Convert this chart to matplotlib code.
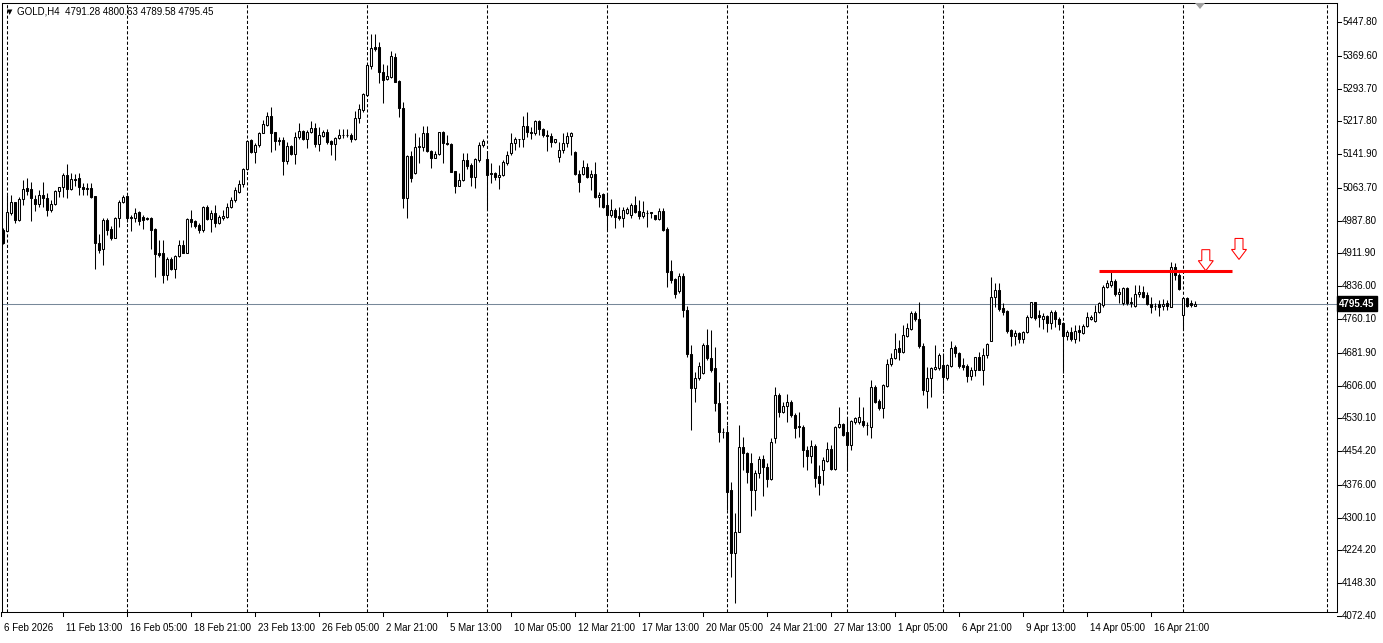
import matplotlib
matplotlib.use("Agg")
import matplotlib.pyplot as plt
import matplotlib.transforms as mtransforms
from matplotlib.patches import Polygon
import numpy as np

plt.rcParams['font.family'] = ['Liberation Sans', 'DejaVu Sans']

# GOLD H4 candles, oldest first
opens = [4966, 4965, 5005, 5030, 4989, 5037, 5063, 5060, 5037, 5026,
         5047, 5040, 5012, 5026, 5056, 5065, 5094, 5060, 5084, 5086,
         5065, 5060, 5063, 5045, 4937, 4922, 4989, 4968, 4947, 4995,
         5030, 5045, 4995, 4995, 5007, 4997, 4994, 4995, 4968, 4912,
         4914, 4863, 4899, 4876, 4906, 4931, 4914, 4992, 4987, 4978,
         4966, 5020, 4992, 5005, 4982, 4995, 4997, 5020, 5036, 5055,
         5072, 5107, 5175, 5146, 5163, 5191, 5209, 5229, 5192, 5175,
         5174, 5127, 5161, 5142, 5182, 5195, 5176, 5192, 5202, 5165,
         5184, 5194, 5172, 5165, 5180, 5185, 5185, 5186, 5177, 5225,
         5244, 5279, 5347, 5391, 5391, 5333, 5315, 5321, 5366, 5311,
         5248, 5040, 5138, 5097, 5158, 5159, 5190, 5148, 5134, 5142,
         5194, 5168, 5165, 5103, 5069, 5082, 5128, 5117, 5090, 5128,
         5163, 5131, 5099, 5099, 5088, 5093, 5122, 5145, 5167, 5177,
         5176, 5207, 5192, 5190, 5219, 5199, 5186, 5184, 5171, 5136,
         5151, 5167, 5184, 5146, 5095, 5095, 5113, 5088, 5096, 5042,
         5050, 5024, 5001, 5012, 4999, 4995, 5006, 5001, 5024, 5010,
         4999, 5006, 5008, 5001, 4991, 5011, 4968, 4871, 4852, 4826,
         4860, 4781, 4678, 4601, 4623, 4634, 4700, 4669, 4646, 4565,
         4499, 4498, 4363, 4219, 4268, 4464, 4450, 4427, 4364, 4404,
         4437, 4418, 4389, 4484, 4584, 4545, 4558, 4567, 4538, 4513,
         4509, 4457, 4444, 4466, 4396, 4410, 4432, 4460, 4413, 4509,
         4516, 4499, 4468, 4522, 4522, 4524, 4515, 4511, 4603, 4570,
         4555, 4606, 4655, 4669, 4692, 4684, 4721, 4736, 4775, 4759,
         4698, 4594, 4623, 4644, 4646, 4654, 4623, 4652, 4696, 4681,
         4654, 4651, 4627, 4643, 4671, 4643, 4677, 4710, 4810, 4827,
         4785, 4779, 4735, 4721, 4728, 4713, 4731, 4764, 4799, 4769,
         4761, 4767, 4751, 4777, 4761, 4751, 4721, 4731, 4713, 4735,
         4728, 4744, 4759, 4756, 4777, 4792, 4835, 4839, 4849, 4819,
         4796, 4831, 4796, 4790, 4819, 4823, 4815, 4795, 4790, 4794,
         4790, 4796, 4789, 4880, 4862, 4769, 4808, 4796, 4791.28]
highs = [4970, 5047, 5047, 5032, 5043, 5082, 5086, 5077, 5047, 5059,
         5077, 5051, 5036, 5059, 5065, 5097, 5119, 5097, 5096, 5097,
         5076, 5076, 5074, 5045, 4958, 4993, 4993, 4975, 4997, 5036,
         5047, 5045, 5001, 5016, 5010, 5001, 4997, 4997, 4970, 4943,
         4944, 4904, 4904, 4908, 4943, 4943, 4993, 5012, 4989, 4982,
         5022, 5024, 5012, 5024, 5001, 5012, 5028, 5043, 5065, 5082,
         5109, 5175, 5178, 5167, 5194, 5221, 5240, 5252, 5194, 5182,
         5182, 5171, 5163, 5194, 5213, 5198, 5198, 5219, 5213, 5205,
         5198, 5199, 5175, 5182, 5201, 5201, 5201, 5190, 5242, 5257,
         5283, 5350, 5419, 5419, 5401, 5350, 5348, 5381, 5375, 5314,
         5263, 5140, 5148, 5190, 5182, 5206, 5206, 5151, 5148, 5194,
         5195, 5186, 5167, 5103, 5097, 5144, 5144, 5121, 5132, 5171,
         5178, 5148, 5121, 5101, 5117, 5128, 5148, 5190, 5182, 5178,
         5230, 5240, 5205, 5222, 5222, 5202, 5198, 5190, 5178, 5171,
         5190, 5192, 5194, 5148, 5105, 5128, 5121, 5105, 5124, 5055,
         5051, 5051, 5039, 5016, 5020, 5019, 5020, 5028, 5045, 5036,
         5034, 5012, 5009, 5002, 5016, 5016, 4974, 4897, 4854, 4866,
         4866, 4790, 4700, 4638, 4661, 4704, 4736, 4735, 4696, 4615,
         4507, 4515, 4383, 4310, 4515, 4488, 4453, 4449, 4410, 4443,
         4445, 4427, 4484, 4603, 4588, 4569, 4586, 4572, 4543, 4545,
         4515, 4465, 4480, 4471, 4422, 4441, 4476, 4468, 4512, 4557,
         4520, 4530, 4526, 4534, 4580, 4557, 4522, 4620, 4607, 4576,
         4609, 4667, 4681, 4727, 4711, 4746, 4750, 4779, 4779, 4800,
         4704, 4650, 4650, 4700, 4682, 4681, 4657, 4708, 4700, 4684,
         4669, 4657, 4650, 4673, 4684, 4692, 4705, 4858, 4843, 4843,
         4796, 4782, 4738, 4735, 4731, 4733, 4769, 4800, 4800, 4781,
         4773, 4769, 4781, 4781, 4765, 4754, 4735, 4742, 4746, 4746,
         4748, 4777, 4769, 4792, 4800, 4839, 4850, 4870, 4852, 4833,
         4835, 4835, 4812, 4839, 4839, 4836, 4823, 4812, 4796, 4804,
         4806, 4804, 4891, 4889, 4867, 4808, 4810, 4804, 4800.63]
lows = [4934, 4963, 5001, 4982, 4988, 5024, 5047, 4988, 5010, 5020,
        5020, 4999, 5009, 5024, 5043, 5043, 5041, 5058, 5068, 5047,
        5047, 5047, 5041, 4877, 4912, 4885, 4954, 4943, 4947, 4974,
        5028, 4985, 4964, 4985, 4978, 4968, 4989, 4922, 4858, 4904,
        4843, 4850, 4873, 4854, 4904, 4912, 4912, 4974, 4970, 4960,
        4962, 4989, 4962, 4974, 4980, 4989, 4993, 5016, 5030, 5051,
        5066, 5105, 5144, 5122, 5159, 5190, 5207, 5146, 5151, 5163,
        5093, 5120, 5140, 5120, 5178, 5174, 5155, 5190, 5159, 5148,
        5182, 5165, 5140, 5128, 5178, 5180, 5182, 5169, 5175, 5215,
        5239, 5277, 5340, 5381, 5306, 5261, 5313, 5317, 5308, 5227,
        5016, 4995, 5077, 5096, 5121, 5148, 5146, 5109, 5132, 5140,
        5121, 5163, 5100, 5051, 5067, 5080, 5107, 5068, 5063, 5124,
        5159, 5012, 5074, 5082, 5060, 5091, 5117, 5140, 5151, 5159,
        5159, 5182, 5178, 5186, 5186, 5182, 5148, 5159, 5168, 5124,
        5144, 5159, 5140, 5094, 5055, 5093, 5086, 5059, 5040, 5019,
        5016, 4966, 4997, 4970, 4989, 4974, 5003, 4993, 5005, 4991,
        4995, 4974, 4993, 4989, 4989, 4964, 4835, 4843, 4808, 4820,
        4765, 4672, 4503, 4569, 4619, 4633, 4665, 4638, 4548, 4476,
        4484, 4318, 4163, 4102, 4268, 4410, 4380, 4304, 4318, 4391,
        4350, 4372, 4387, 4472, 4534, 4542, 4522, 4534, 4484, 4488,
        4417, 4410, 4426, 4372, 4352, 4376, 4430, 4410, 4410, 4507,
        4489, 4410, 4457, 4518, 4518, 4511, 4491, 4484, 4565, 4549,
        4530, 4603, 4651, 4667, 4665, 4682, 4719, 4735, 4756, 4694,
        4584, 4553, 4580, 4642, 4643, 4596, 4620, 4650, 4673, 4646,
        4643, 4615, 4619, 4627, 4642, 4607, 4669, 4708, 4789, 4779,
        4769, 4728, 4698, 4700, 4704, 4704, 4727, 4762, 4758, 4742,
        4738, 4731, 4738, 4742, 4735, 4634, 4711, 4708, 4704, 4708,
        4725, 4742, 4758, 4754, 4775, 4789, 4831, 4835, 4813, 4796,
        4792, 4792, 4788, 4789, 4812, 4808, 4792, 4773, 4781, 4767,
        4781, 4781, 4787, 4850, 4827, 4735, 4789, 4789, 4789.58]
closes = [4937, 5008, 5030, 4989, 5037, 5062, 5057, 5040, 5026, 5047,
          5040, 5012, 5026, 5056, 5065, 5094, 5060, 5084, 5083, 5065,
          5060, 5063, 5043, 4935, 4920, 4989, 4966, 4947, 4995, 5032,
          5042, 4995, 4996, 5005, 4988, 4989, 4992, 4966, 4910, 4908,
          4863, 4900, 4876, 4907, 4931, 4914, 4992, 4985, 4975, 4966,
          5020, 4992, 5005, 4982, 4997, 4999, 5020, 5036, 5059, 5072,
          5107, 5173, 5146, 5163, 5191, 5211, 5229, 5190, 5173, 5172,
          5127, 5161, 5142, 5182, 5195, 5176, 5192, 5202, 5165, 5186,
          5192, 5171, 5165, 5180, 5186, 5185, 5186, 5178, 5225, 5246,
          5281, 5348, 5388, 5385, 5333, 5314, 5323, 5368, 5310, 5248,
          5040, 5138, 5087, 5158, 5161, 5190, 5148, 5134, 5142, 5192,
          5167, 5165, 5101, 5069, 5082, 5128, 5115, 5090, 5131, 5163,
          5172, 5094, 5096, 5088, 5093, 5124, 5140, 5167, 5178, 5177,
          5207, 5192, 5190, 5219, 5199, 5186, 5184, 5171, 5176, 5151,
          5168, 5184, 5190, 5095, 5078, 5113, 5088, 5096, 5042, 5047,
          5019, 5001, 5012, 4997, 4995, 5012, 5014, 5024, 5009, 4999,
          5009, 5006, 5005, 4991, 5011, 4966, 4870, 4850, 4818, 4860,
          4781, 4680, 4601, 4623, 4651, 4700, 4669, 4643, 4565, 4499,
          4499, 4360, 4219, 4268, 4464, 4449, 4406, 4364, 4404, 4437,
          4417, 4389, 4475, 4584, 4545, 4559, 4567, 4538, 4507, 4509,
          4457, 4444, 4466, 4393, 4381, 4433, 4460, 4413, 4511, 4516,
          4491, 4468, 4524, 4532, 4534, 4515, 4514, 4603, 4569, 4555,
          4607, 4656, 4669, 4690, 4684, 4723, 4740, 4775, 4759, 4698,
          4596, 4623, 4646, 4648, 4677, 4625, 4654, 4694, 4681, 4652,
          4648, 4627, 4643, 4671, 4643, 4677, 4702, 4810, 4827, 4783,
          4777, 4733, 4721, 4727, 4713, 4731, 4764, 4799, 4762, 4764,
          4767, 4751, 4777, 4759, 4748, 4721, 4731, 4713, 4733, 4731,
          4744, 4764, 4765, 4777, 4796, 4835, 4844, 4849, 4819, 4823,
          4831, 4796, 4799, 4819, 4823, 4812, 4795, 4789, 4790, 4789,
          4795, 4790, 4880, 4862, 4829, 4808, 4790, 4792, 4795.45]

price_levels = [5447.80, 5369.60, 5293.70, 5217.80, 5141.90, 5063.70, 4987.80,
                4911.90, 4836.00, 4760.10, 4681.90, 4606.00, 4530.10, 4454.20,
                4376.00, 4300.10, 4224.20, 4148.30, 4072.40]
time_labels = ["6 Feb 2026", "11 Feb 13:00", "16 Feb 05:00", "18 Feb 21:00",
               "23 Feb 13:00", "26 Feb 05:00", "2 Mar 21:00", "5 Mar 13:00",
               "10 Mar 05:00", "12 Mar 21:00", "17 Mar 13:00", "20 Mar 05:00",
               "24 Mar 21:00", "27 Mar 13:00", "1 Apr 05:00", "6 Apr 21:00",
               "9 Apr 13:00", "14 Apr 05:00", "16 Apr 21:00"]
label_bars = [-0.5, 15, 31, 47, 63, 79, 95, 111, 127, 143, 159, 175, 191, 207,
              223, 239, 255, 271, 287]
week_bars = [1, 31, 61, 91, 121, 151, 181, 211, 235, 265, 295, 331]

bid = 4795.45
resistance = 4872
resistance_bars = (274, 307.25)
arrow_bars = [300.7, 309]
arrow_prices = [4872, 4898]

W, H = 1383, 643
fig = plt.figure(figsize=(W / 100, H / 100), dpi=100)
fig.patch.set_facecolor('white')
ax = fig.add_axes([2 / W, 1 - 612 / H, 1335 / W, 609 / H])
ax.set_xlim(-0.25, 333.5)
ax.set_ylim(4081.66, 5491.79)
ax.set_xticks([])
ax.set_yticks([])
for s in ax.spines.values():
    s.set_linewidth(0.75)
    s.set_color('black')

o = np.array(opens, dtype=float)
h = np.array(highs, dtype=float)
l = np.array(lows, dtype=float)
c = np.array(closes, dtype=float)
x = np.arange(len(c))
up = c >= o

# week separators and bid line
for b in week_bars:
    ax.axvline(b, color='black', lw=0.75, ls=(0, (3, 2)), zorder=1)
ax.axhline(bid, color='#778899', lw=0.75, zorder=1)

# candles
ax.vlines(x, l, h, color='black', lw=0.75, zorder=2)
ax.bar(x, np.abs(c - o), bottom=np.minimum(o, c), width=0.5,
       color=np.where(up, 'white', 'black'), edgecolor='black',
       linewidth=0.75, zorder=3)

# resistance line and arrows
ax.hlines(resistance, *resistance_bars, color='red', lw=2.2, zorder=4)
arrow_shape = [(-4, 21), (4, 21), (4, 10), (7.5, 10), (0, 0), (-7.5, 10), (-4, 10)]
for ab, ap in zip(arrow_bars, arrow_prices):
    tr = mtransforms.IdentityTransform() + mtransforms.ScaledTranslation(ab, ap, ax.transData)
    ax.add_patch(Polygon(arrow_shape, closed=True, fc='white', ec='red', lw=0.75,
                         transform=tr, zorder=5, clip_on=False))

# right price scale
ytr = mtransforms.blended_transform_factory(ax.transAxes, ax.transData)
for lv in price_levels:
    ax.plot([1.0, 1.003], [lv, lv], color='black', lw=0.75, transform=ytr, clip_on=False)
    ax.text(1.0038, lv, f"{lv:.2f}", transform=ytr, fontsize=7, va='center',
            ha='left', clip_on=False)
ax.text(1.0015, bid, f"{bid:.2f}", transform=ytr, fontsize=7, va='center',
        ha='left', color='white', fontweight='bold', clip_on=False,
        bbox=dict(boxstyle='square,pad=0.25', fc='black', ec='black'))

# time scale
xtr = mtransforms.blended_transform_factory(ax.transData, ax.transAxes)
for lb, txt in zip(label_bars, time_labels):
    ax.plot([lb, lb], [0, -0.006], color='black', lw=0.75, transform=xtr, clip_on=False)
    ax.text(lb, 0, txt, fontsize=7, ha='left', va='center', clip_on=False,
            transform=xtr + mtransforms.ScaledTranslation(0.03, -0.16, fig.dpi_scale_trans))

# header
fig.text(7 / W, 1 - 12 / H, "\u25bc", fontsize=5, family='DejaVu Sans', va='center')
fig.text(17 / W, 1 - 12 / H, "GOLD,H4  4791.28 4800.63 4789.58 4795.45",
         fontsize=7, va='center')
# chart shift marker
fig.patches.append(Polygon([(1195 / W, 1 - 3 / H), (1205 / W, 1 - 3 / H), (1200 / W, 1 - 9 / H)],
                           closed=True, fc='#a0a0a0', ec='none', transform=fig.transFigure))

fig.savefig('out.png', dpi=100)
